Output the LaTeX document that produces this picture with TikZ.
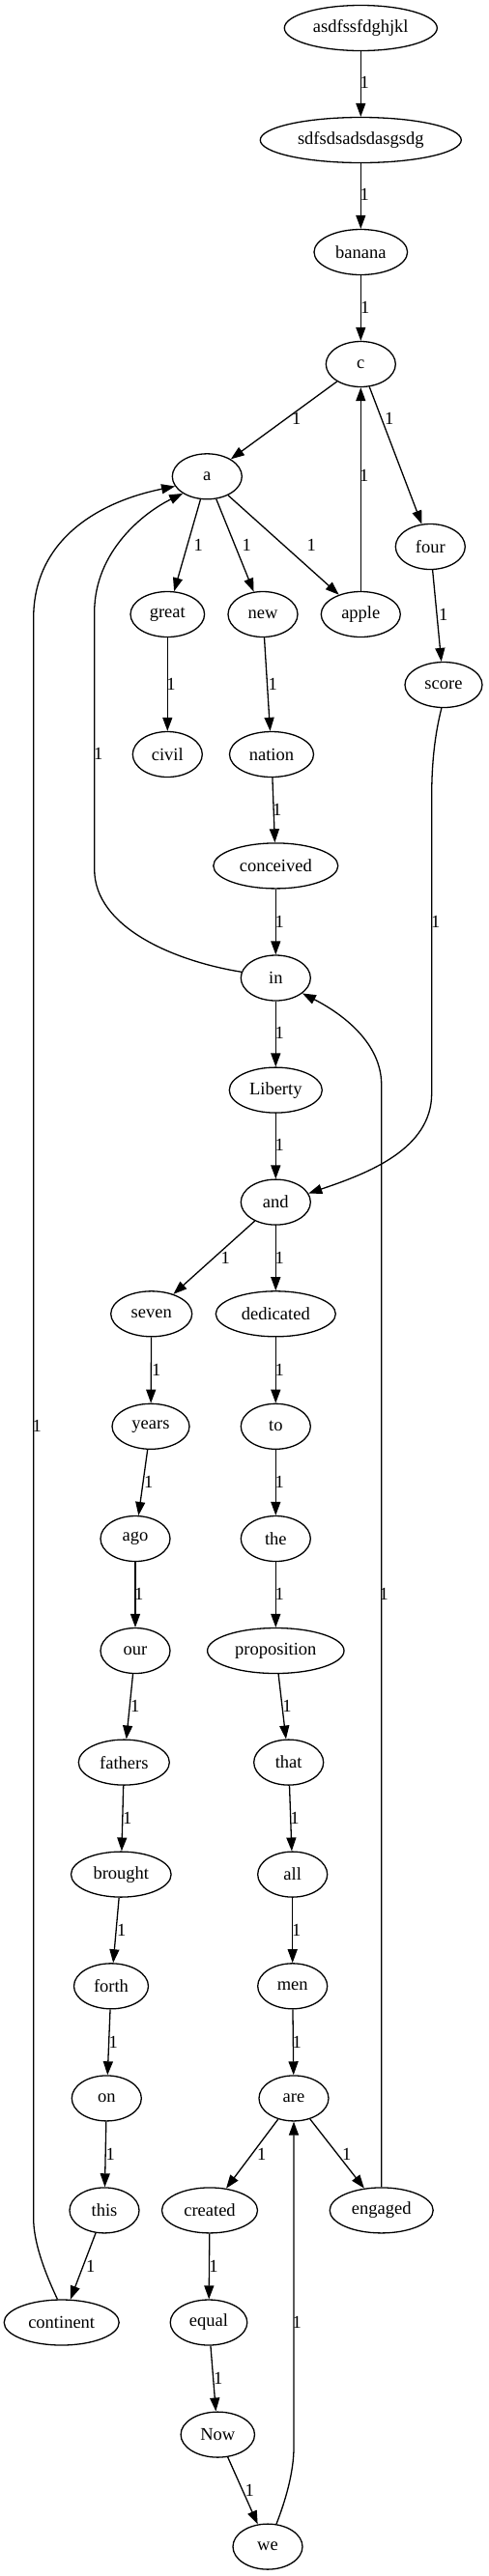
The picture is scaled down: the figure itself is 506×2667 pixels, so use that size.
\documentclass[tikz,border=0pt]{standalone}
\usepackage{fontspec}
\setmainfont{Liberation Serif}
\usetikzlibrary{shapes.geometric,arrows.meta}
\begin{document}
\begin{tikzpicture}[x=1pt,y=-1pt,
  nd/.style={ellipse, draw, line width=1.3pt, inner sep=0pt, minimum height=47pt, font=\fontsize{18.5}{20}\selectfont},
  e/.style={line width=1.3pt, -{Triangle[length=14pt,width=10pt]}},
  lbl/.style={inner sep=0pt, font=\fontsize{18.5}{20}\selectfont}]
\useasboundingbox (0,0) rectangle (506,2667);
\node[nd, minimum width=158pt] (nAsdf) at (373.3,29) {asdfssfdghjkl};
\node[nd, minimum width=208pt] (nSdfs) at (373.3,145) {sdfsdsadsdasgsdg};
\node[nd, minimum width=96.6pt] (nBanana) at (373.3,261) {banana};
\node[nd, minimum width=72pt] (nC) at (373.3,377) {c};
\node[nd, minimum width=72pt] (nA) at (214.3,493.3) {a};
\node[nd, minimum width=72pt] (nFour) at (445.3,566) {four};
\node[nd, minimum width=76.6pt] (nGreat) at (173.3,636) {great};
\node[nd, minimum width=72pt] (nNew) at (272,636) {new};
\node[nd, minimum width=82pt] (nApple) at (373.3,636) {apple};
\node[nd, minimum width=80pt] (nScore) at (459,709) {score};
\node[nd, minimum width=72pt] (nCivil) at (173.3,781) {civil};
\node[nd, minimum width=87pt] (nNation) at (281,781) {nation};
\node[nd, minimum width=129pt] (nConceived) at (285.3,896.4) {conceived};
\node[nd, minimum width=72pt] (nIn) at (285.3,1012.5) {in};
\node[nd, minimum width=96pt] (nLiberty) at (285.3,1128.6) {Liberty};
\node[nd, minimum width=72pt] (nAnd) at (285.3,1244.6) {and};
\node[nd, minimum width=84pt] (nSeven) at (156.7,1360.3) {seven};
\node[nd, minimum width=124pt] (nDedicated) at (285.3,1360.3) {dedicated};
\node[nd, minimum width=80pt] (nYears) at (156,1476.8) {years};
\node[nd, minimum width=72pt] (nTo) at (285.3,1476.8) {to};
\node[nd, minimum width=72pt] (nAgo) at (140,1593) {ago};
\node[nd, minimum width=72pt] (nThe) at (285.3,1593) {the};
\node[nd, minimum width=72pt] (nOur) at (140,1709) {our};
\node[nd, minimum width=141.4pt] (nProp) at (285.3,1709) {proposition};
\node[nd, minimum width=94pt] (nFathers) at (128.3,1824.6) {fathers};
\node[nd, minimum width=72pt] (nThat) at (298.7,1824.6) {that};
\node[nd, minimum width=103.6pt] (nBrought) at (125.3,1940.6) {brought};
\node[nd, minimum width=72pt] (nAll) at (302.7,1940.6) {all};
\node[nd, minimum width=77pt] (nForth) at (115,2056.3) {forth};
\node[nd, minimum width=72pt] (nMen) at (302.7,2056.3) {men};
\node[nd, minimum width=72pt] (nOn) at (110.3,2172.4) {on};
\node[nd, minimum width=72pt] (nAre) at (304,2172.4) {are};
\node[nd, minimum width=72pt] (nThis) at (108,2288.4) {this};
\node[nd, minimum width=99pt] (nCreated) at (217,2288.4) {created};
\node[nd, minimum width=107pt] (nEngaged) at (394.7,2288.4) {engaged};
\node[nd, minimum width=119pt] (nCont) at (63.7,2404.5) {continent};
\node[nd, minimum width=79.6pt] (nEqual) at (216,2404.5) {equal};
\node[nd, minimum width=76.4pt] (nNow) at (225.3,2520.6) {Now};
\node[nd, minimum width=72pt] (nWe) at (277,2636.6) {we};
% straight edges
\draw[e] (nAsdf) -- (nSdfs) node[lbl] at (377.3,85.7) {1};
\draw[e] (nSdfs) -- (nBanana) node[lbl] at (377.3,201.8) {1};
\draw[e] (nBanana) -- (nC) node[lbl] at (377.7,318.5) {1};
\draw[e] (nC) -- (nA) node[lbl] at (306.7,433) {1};
\draw[e] (nC) -- (nFour) node[lbl] at (402.7,433) {1};
\draw[e] (nApple) -- (nC) node[lbl] at (376.7,492.4) {1};
\draw[e] (nA) -- (nGreat) node[lbl] at (205.3,564.7) {1};
\draw[e] (nA) -- (nNew) node[lbl] at (255.3,564.7) {1};
\draw[e] (nA) -- (nApple) node[lbl] at (322.3,564.7) {1};
\draw[e] (nFour) -- (nScore) node[lbl] at (458.7,636.7) {1};
\draw[e] (nGreat) -- (nCivil) node[lbl] at (177,708) {1};
\draw[e] (nNew) -- (nNation) node[lbl] at (282.3,708) {1};
\draw[e] (nNation) -- (nConceived) node[lbl] at (286.7,838.4) {1};
\draw[e] (nConceived) -- (nIn) node[lbl] at (289.3,954.5) {1};
\draw[e] (nIn) -- (nLiberty) node[lbl] at (289.3,1069.6) {1};
\draw[e] (nLiberty) -- (nAnd) node[lbl] at (289.3,1185.7) {1};
\draw[e] (nAnd) -- (nSeven) node[lbl] at (233.3,1302.7) {1};
\draw[e] (nAnd) -- (nDedicated) node[lbl] at (289.3,1302.7) {1};
\draw[e] (nSeven) -- (nYears) node[lbl] at (161.7,1418.3) {1};
\draw[e] (nDedicated) -- (nTo) node[lbl] at (289.3,1418.3) {1};
\draw[e] (nYears) -- (nAgo) node[lbl] at (153.7,1534.4) {1};
\draw[e] (nTo) -- (nThe) node[lbl] at (289.3,1534.4) {1};
\draw[e] (nAgo) -- (nOur) node[lbl] at (143.7,1650.4) {1};
\draw[e] (nThe) -- (nProp) node[lbl] at (289.3,1650.4) {1};
\draw[e] (nOur) -- (nFathers) node[lbl] at (139.7,1766.5) {1};
\draw[e] (nProp) -- (nThat) node[lbl] at (297,1766.5) {1};
\draw[e] (nFathers) -- (nBrought) node[lbl] at (131.7,1882.6) {1};
\draw[e] (nThat) -- (nAll) node[lbl] at (305,1882.6) {1};
\draw[e] (nBrought) -- (nForth) node[lbl] at (125.7,1998.3) {1};
\draw[e] (nAll) -- (nMen) node[lbl] at (306.7,1998.3) {1};
\draw[e] (nForth) -- (nOn) node[lbl] at (117.3,2114.3) {1};
\draw[e] (nMen) -- (nAre) node[lbl] at (307.3,2114.3) {1};
\draw[e] (nOn) -- (nThis) node[lbl] at (114.3,2230.4) {1};
\draw[e] (nAre) -- (nCreated) node[lbl] at (270.7,2230.4) {1};
\draw[e] (nAre) -- (nEngaged) node[lbl] at (358.7,2230.4) {1};
\draw[e] (nThis) -- (nCont) node[lbl] at (93.7,2346.5) {1};
\draw[e] (nCreated) -- (nEqual) node[lbl] at (221,2346.5) {1};
\draw[e] (nEqual) -- (nNow) node[lbl] at (225.7,2462.5) {1};
\draw[e] (nNow) -- (nWe) node[lbl] at (258.3,2578.6) {1};
% curved edges
\draw[e] (nIn.170) .. controls (180,995) and (97.7,960) .. (97.7,900) -- (97.7,634)
  .. controls (97.7,570) and (150,530) .. (nA.215) node[lbl] at (101.7,780.8) {1};
\draw[e] (nCont.100) .. controls (45,2350) and (34.7,2320) .. (34.7,2297) -- (34.7,640)
  .. controls (34.7,560) and (100,520) .. (nA.197) node[lbl] at (38.3,1476.3) {1};
\draw[e] (nScore.265) .. controls (450,760) and (446.7,790) .. (446.7,824) -- (446.7,1132)
  .. controls (446.7,1190) and (380,1215) .. (nAnd.15) node[lbl] at (450.7,954.5) {1};
\draw[e] (nEngaged.north) -- (394.7,1123)
  .. controls (394.7,1080) and (355,1050) .. (nIn.330) node[lbl] at (397.3,1650.4) {1};
\draw[e] (nWe.69) .. controls (295,2590) and (304,2560) .. (304,2534) -- (nAre.south)
  node[lbl] at (307.3,2404.5) {1};
\end{tikzpicture}
\end{document}
